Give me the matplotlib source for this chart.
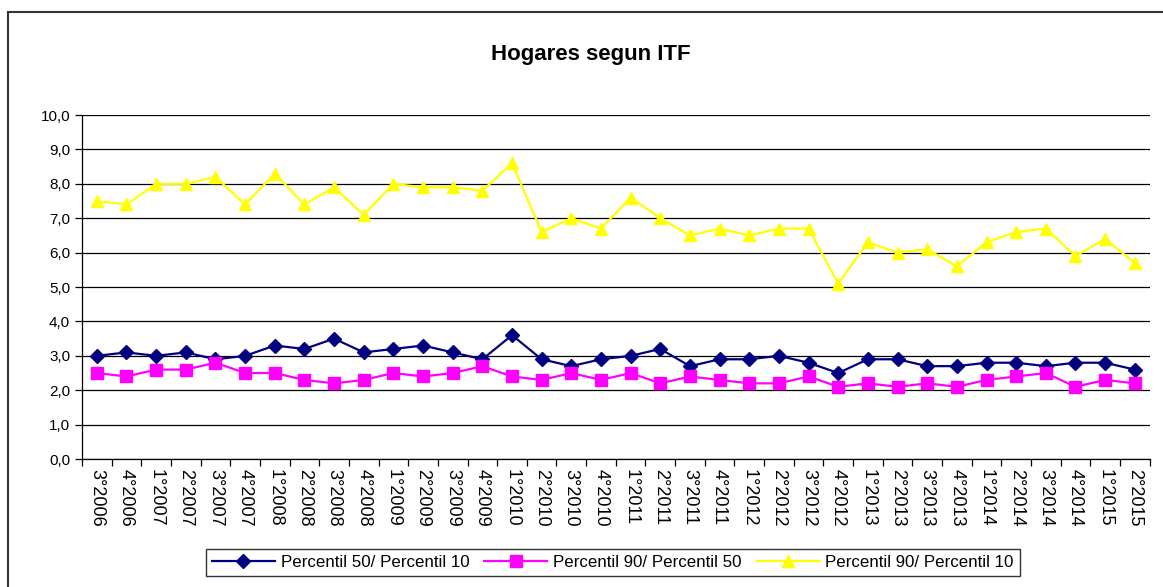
import numpy as np
import matplotlib
matplotlib.use('Agg')
import matplotlib.pyplot as plt
from matplotlib.patches import Rectangle

plt.rcParams['font.family'] = ['Liberation Sans', 'DejaVu Sans']

# trimestres 3°2006 .. 2°2015
periodos = ['3°2006', '4°2006',
            '1°2007', '2°2007', '3°2007', '4°2007',
            '1°2008', '2°2008', '3°2008', '4°2008',
            '1°2009', '2°2009', '3°2009', '4°2009',
            '1°2010', '2°2010', '3°2010', '4°2010',
            '1°2011', '2°2011', '3°2011', '4°2011',
            '1°2012', '2°2012', '3°2012', '4°2012',
            '1°2013', '2°2013', '3°2013', '4°2013',
            '1°2014', '2°2014', '3°2014', '4°2014',
            '1°2015', '2°2015']

p50_p10 = [3.0, 3.1, 3.0, 3.1, 2.9, 3.0, 3.3, 3.2, 3.5, 3.1, 3.2, 3.3,
           3.1, 2.9, 3.6, 2.9, 2.7, 2.9, 3.0, 3.2, 2.7, 2.9, 2.9, 3.0,
           2.8, 2.5, 2.9, 2.9, 2.7, 2.7, 2.8, 2.8, 2.7, 2.8, 2.8, 2.6]
p90_p50 = [2.5, 2.4, 2.6, 2.6, 2.8, 2.5, 2.5, 2.3, 2.2, 2.3, 2.5, 2.4,
           2.5, 2.7, 2.4, 2.3, 2.5, 2.3, 2.5, 2.2, 2.4, 2.3, 2.2, 2.2,
           2.4, 2.1, 2.2, 2.1, 2.2, 2.1, 2.3, 2.4, 2.5, 2.1, 2.3, 2.2]
p90_p10 = [7.5, 7.4, 8.0, 8.0, 8.2, 7.4, 8.3, 7.4, 7.9, 7.1, 8.0, 7.9,
           7.9, 7.8, 8.6, 6.6, 7.0, 6.7, 7.6, 7.0, 6.5, 6.7, 6.5, 6.7,
           6.7, 5.1, 6.3, 6.0, 6.1, 5.6, 6.3, 6.6, 6.7, 5.9, 6.4, 5.7]

fig = plt.figure(figsize=(11.63, 5.87), dpi=100)
ax = fig.add_axes([0.0705, 0.218, 0.918, 0.586])

x = np.arange(len(periodos))
ax.plot(x, p50_p10, color='#000080', marker='D', markersize=7, lw=1.6,
        label='Percentil 50/ Percentil 10', zorder=3)
ax.plot(x, p90_p50, color='#FF00FF', marker='s', markersize=8, lw=1.6,
        label='Percentil 90/ Percentil 50', zorder=3)
ax.plot(x, p90_p10, color='#FFFF00', marker='^', markersize=9, lw=1.6,
        label='Percentil 90/ Percentil 10', zorder=3)

ax.set_xlim(-0.5, len(periodos) - 0.5)
ax.set_ylim(0, 10)
ax.set_yticks(np.arange(0, 11, 1))
ax.set_yticklabels([f'{v:.1f}'.replace('.', ',') for v in range(11)], fontsize=11)
ax.yaxis.grid(True, color='black', lw=0.9)
ax.set_axisbelow(True)

# ticks between categories, labels at centers
ax.set_xticks(np.arange(-0.5, len(periodos), 1))
ax.set_xticklabels([])
ax.set_xticks(x, minor=True)
ax.set_xticklabels(periodos, minor=True, rotation=-90, fontsize=13)
ax.tick_params(axis='x', which='minor', length=0, pad=7)
ax.tick_params(axis='both', which='major', direction='out', length=5, width=0.9)

for s in ['top', 'right']:
    ax.spines[s].set_visible(False)
for s in ['left', 'bottom']:
    ax.spines[s].set_color('black')
    ax.spines[s].set_linewidth(0.9)

fig.text(0.508, 0.908, 'Hogares segun ITF', ha='center', va='center',
         fontsize=16, fontweight='bold')

leg = fig.legend(loc='center', bbox_to_anchor=(0.527, 0.042), ncol=3,
                 fontsize=12.2, frameon=True, fancybox=False, handlelength=3.7,
                 columnspacing=0.9, handletextpad=0.35, borderpad=0.35)
leg.get_frame().set_edgecolor('black')
leg.get_frame().set_linewidth(1.0)

# marco exterior del grafico
fig.patches.append(Rectangle((8 / 1163, -0.1), 1.2, 0.1 + 1 - 12 / 587,
                             transform=fig.transFigure, fill=False,
                             edgecolor='#333333', lw=1.5))

fig.savefig('out.png', dpi=100)
